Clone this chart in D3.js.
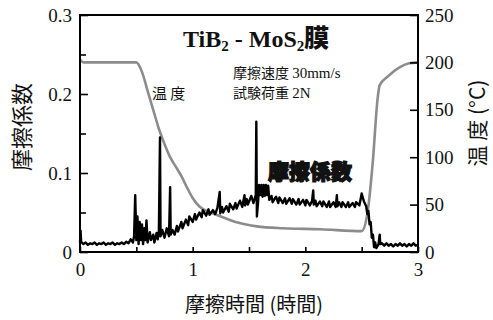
<!DOCTYPE html>
<html>
<head>
<meta charset="utf-8">
<script src="https://cdn.jsdelivr.net/npm/d3@7"></script>
<style>
  body { margin: 0; background: #fff; }
  svg { display: block; }
  .tick line { stroke: #000; stroke-width: 1.6; }
  .jp { font-family: "Noto Sans CJK JP", sans-serif; fill: #111; }
</style>
</head>
<body>
<svg width="493" height="320"></svg>
<script>
// friction coefficient [hours, mu]
var friction = [
  [0,0.012],[0.005,0.027],[0.01,0.013],[0.03,0.010],[0.05,0.012],[0.07,0.009],[0.09,0.011],
  [0.11,0.010],[0.13,0.012],[0.15,0.009],[0.17,0.011],[0.19,0.010],[0.21,0.012],[0.23,0.009],
  [0.25,0.011],[0.27,0.010],[0.29,0.012],[0.31,0.009],[0.33,0.011],[0.35,0.010],[0.37,0.012],
  [0.39,0.010],[0.41,0.013],[0.43,0.011],[0.45,0.016],[0.47,0.012],[0.48,0.020],[0.49,0.072],
  [0.50,0.015],[0.51,0.045],[0.52,0.010],[0.53,0.038],[0.54,0.015],[0.55,0.035],[0.56,0.010],
  [0.57,0.030],[0.58,0.015],[0.59,0.040],[0.60,0.012],[0.62,0.025],[0.63,0.015],[0.65,0.022],
  [0.66,0.012],[0.68,0.024],[0.69,0.016],[0.70,0.026],[0.71,0.145],[0.715,0.020],[0.73,0.028],
  [0.75,0.018],[0.77,0.030],[0.79,0.020],[0.80,0.082],[0.805,0.022],[0.82,0.028],[0.84,0.022],
  [0.86,0.033],[0.87,0.026],[0.90,0.038],[0.91,0.030],[0.94,0.041],[0.96,0.034],[0.97,0.045],
  [1.00,0.038],[1.02,0.048],[1.03,0.041],[1.06,0.050],[1.08,0.044],[1.09,0.053],[1.12,0.046],
  [1.14,0.054],[1.15,0.047],[1.18,0.053],[1.20,0.048],[1.22,0.056],[1.24,0.076],[1.245,0.049],
  [1.26,0.057],[1.27,0.050],[1.30,0.058],[1.32,0.051],[1.33,0.061],[1.36,0.054],[1.38,0.062],
  [1.39,0.055],[1.42,0.065],[1.44,0.057],[1.46,0.072],[1.465,0.059],[1.48,0.067],[1.49,0.060],
  [1.52,0.071],[1.54,0.062],[1.56,0.072],[1.565,0.165],[1.57,0.045],[1.58,0.062],[1.59,0.085],
  [1.60,0.072],[1.61,0.085],[1.62,0.070],[1.63,0.085],[1.64,0.071],[1.65,0.085],[1.66,0.072],
  [1.67,0.084],[1.68,0.066],[1.70,0.071],[1.71,0.063],[1.74,0.070],[1.76,0.062],[1.77,0.069],
  [1.80,0.062],[1.82,0.068],[1.83,0.061],[1.86,0.068],[1.88,0.061],[1.89,0.067],[1.92,0.060],
  [1.94,0.067],[1.95,0.060],[1.98,0.066],[2.00,0.059],[2.01,0.066],[2.04,0.059],[2.06,0.065],
  [2.07,0.078],[2.075,0.060],[2.09,0.065],[2.10,0.058],[2.13,0.064],[2.15,0.058],[2.16,0.064],
  [2.19,0.057],[2.21,0.064],[2.22,0.057],[2.25,0.063],[2.27,0.057],[2.28,0.072],[2.285,0.058],
  [2.30,0.063],[2.32,0.057],[2.33,0.063],[2.36,0.057],[2.38,0.063],[2.39,0.057],[2.42,0.062],
  [2.44,0.057],[2.45,0.063],[2.48,0.059],[2.50,0.074],[2.52,0.064],[2.54,0.058],[2.55,0.048],
  [2.56,0.052],[2.57,0.035],[2.58,0.038],[2.59,0.018],[2.60,0.022],[2.61,0.006],[2.62,0.012],
  [2.63,0.005],[2.65,0.010],[2.66,0.022],[2.665,0.010],[2.68,0.011],[2.70,0.008],[2.72,0.011],
  [2.74,0.008],[2.76,0.010],[2.78,0.007],[2.80,0.010],[2.82,0.008],[2.84,0.011],[2.86,0.008],
  [2.88,0.010],[2.90,0.007],[2.92,0.010],[2.94,0.008],[2.96,0.011],[2.98,0.008],[3.00,0.009]
];

// temperature [hours, degC]
var temperature = [
  [0,203],[0.03,200],[0.5,200],[0.55,190],[0.6,170],[0.65,150],[0.7,130],[0.75,114],
  [0.8,100],[0.85,90],[0.9,80],[0.95,68],[1.0,57],[1.06,48],[1.15,42],[1.24,38],[1.4,31],
  [1.57,27],[1.8,25],[2.13,24],[2.5,22],[2.55,40],[2.6,97],[2.64,160],[2.66,176],
  [2.73,185],[2.84,195],[2.92,199],[3.0,200]
];

var xTicks = [0, 0.5, 1, 1.5, 2, 2.5, 3];
var xLabels = [0, 1, 2, 3];
var muTicks = [0, 0.1, 0.2, 0.3];
var muMinor = [0.05, 0.15, 0.25];
var tempTicks = [0, 50, 100, 150, 200, 250];

var svg = d3.select("svg");
var plot = {left: 80, right: 418, top: 15, bottom: 252};

var x = d3.scaleLinear().domain([0, 3]).range([plot.left, plot.right]);
var yMu = d3.scaleLinear().domain([0, 0.3]).range([plot.bottom, plot.top]);
var yT = d3.scaleLinear().domain([0, 250]).range([plot.bottom, plot.top]);

// lines
var tempLine = d3.line().x(function(d) { return x(d[0]); }).y(function(d) { return yT(d[1]); })
  .curve(d3.curveMonotoneX);
var muLine = d3.line().x(function(d) { return x(d[0]); }).y(function(d) { return yMu(d[1]); });

svg.append("path").datum(temperature)
  .attr("d", tempLine)
  .attr("fill", "none").attr("stroke", "#8c8c8c").attr("stroke-width", 2.6);

svg.append("path").datum(friction)
  .attr("d", muLine)
  .attr("fill", "none").attr("stroke", "#000").attr("stroke-width", 2.4)
  .attr("stroke-linejoin", "round");

// axes
var fmtMu = function(d) { return d === 0 ? "0" : d3.format(".1f")(d); };
var serifTicks = function(g) {
  g.select(".domain").remove();
  g.selectAll("text")
    .style("font-family", "'Liberation Serif', 'DejaVu Serif', serif")
    .style("font-size", "19px").attr("fill", "#111");
};

svg.append("g").attr("transform", "translate(" + plot.left + ",0)")
  .call(d3.axisLeft(yMu).tickValues(muTicks).tickFormat(fmtMu).tickSize(-8).tickPadding(8))
  .call(serifTicks);

svg.append("g").attr("transform", "translate(" + plot.left + ",0)")
  .call(d3.axisLeft(yMu).tickValues(muMinor).tickFormat("").tickSize(-6))
  .call(serifTicks);

svg.append("g").attr("transform", "translate(" + plot.right + ",0)")
  .call(d3.axisRight(yT).tickValues(tempTicks).tickSize(-8).tickPadding(7))
  .call(serifTicks);

svg.append("g").attr("transform", "translate(0," + plot.bottom + ")")
  .call(d3.axisBottom(x).tickValues(xTicks)
    .tickFormat(function(d) { return xLabels.indexOf(d) !== -1 ? d : ""; })
    .tickSize(-5).tickPadding(11))
  .call(serifTicks);

svg.append("rect")
  .attr("x", plot.left).attr("y", plot.top)
  .attr("width", plot.right - plot.left).attr("height", plot.bottom - plot.top)
  .attr("fill", "none").attr("stroke", "#000").attr("stroke-width", 2);

// axis titles
svg.append("text").attr("class", "jp")
  .attr("transform", "translate(30,127) rotate(-90)")
  .attr("text-anchor", "middle").attr("font-size", 22)
  .text("摩擦係数");

svg.append("text").attr("class", "jp")
  .attr("transform", "translate(485,123) rotate(-90)")
  .attr("text-anchor", "middle").attr("font-size", 21)
  .text("温 度 (°C)");

svg.append("text").attr("class", "jp")
  .attr("x", 254).attr("y", 312)
  .attr("text-anchor", "middle").attr("font-size", 20)
  .text("摩擦時間 (時間)");

// title
var title = svg.append("text").attr("x", 183).attr("y", 47)
  .attr("font-family", "Liberation Serif, serif").attr("font-weight", "bold")
  .attr("font-size", 24).attr("fill", "#111");
title.append("tspan").text("TiB");
title.append("tspan").attr("font-size", 15).attr("dy", 4).text("2");
title.append("tspan").attr("dy", -4).text(" - MoS");
title.append("tspan").attr("font-size", 15).attr("dy", 4).text("2");
title.append("tspan").attr("dy", -4)
  .attr("font-family", "Noto Sans CJK JP, sans-serif").attr("font-weight", 900)
  .attr("font-size", 25).text("膜");

// annotations
svg.append("text").attr("class", "jp").attr("x", 152).attr("y", 99)
  .attr("font-size", 15).text("温 度");

var cond = svg.append("text").attr("class", "jp").attr("font-size", 14);
cond.append("tspan").attr("x", 233).attr("y", 78).text("摩擦速度 ");
cond.append("tspan").attr("font-family", "Liberation Serif, serif").attr("font-size", 15).text("30mm/s");
var cond2 = svg.append("text").attr("class", "jp").attr("font-size", 14);
cond2.append("tspan").attr("x", 233).attr("y", 98).text("試験荷重 ");
cond2.append("tspan").attr("font-family", "Liberation Serif, serif").attr("font-size", 15).text("2N");

svg.append("text").attr("class", "jp").attr("x", 268).attr("y", 179)
  .attr("font-size", 21).attr("font-weight", 900)
  .attr("stroke", "#111").attr("stroke-width", 1.2)
  .text("摩擦係数");
</script>
</body>
</html>
